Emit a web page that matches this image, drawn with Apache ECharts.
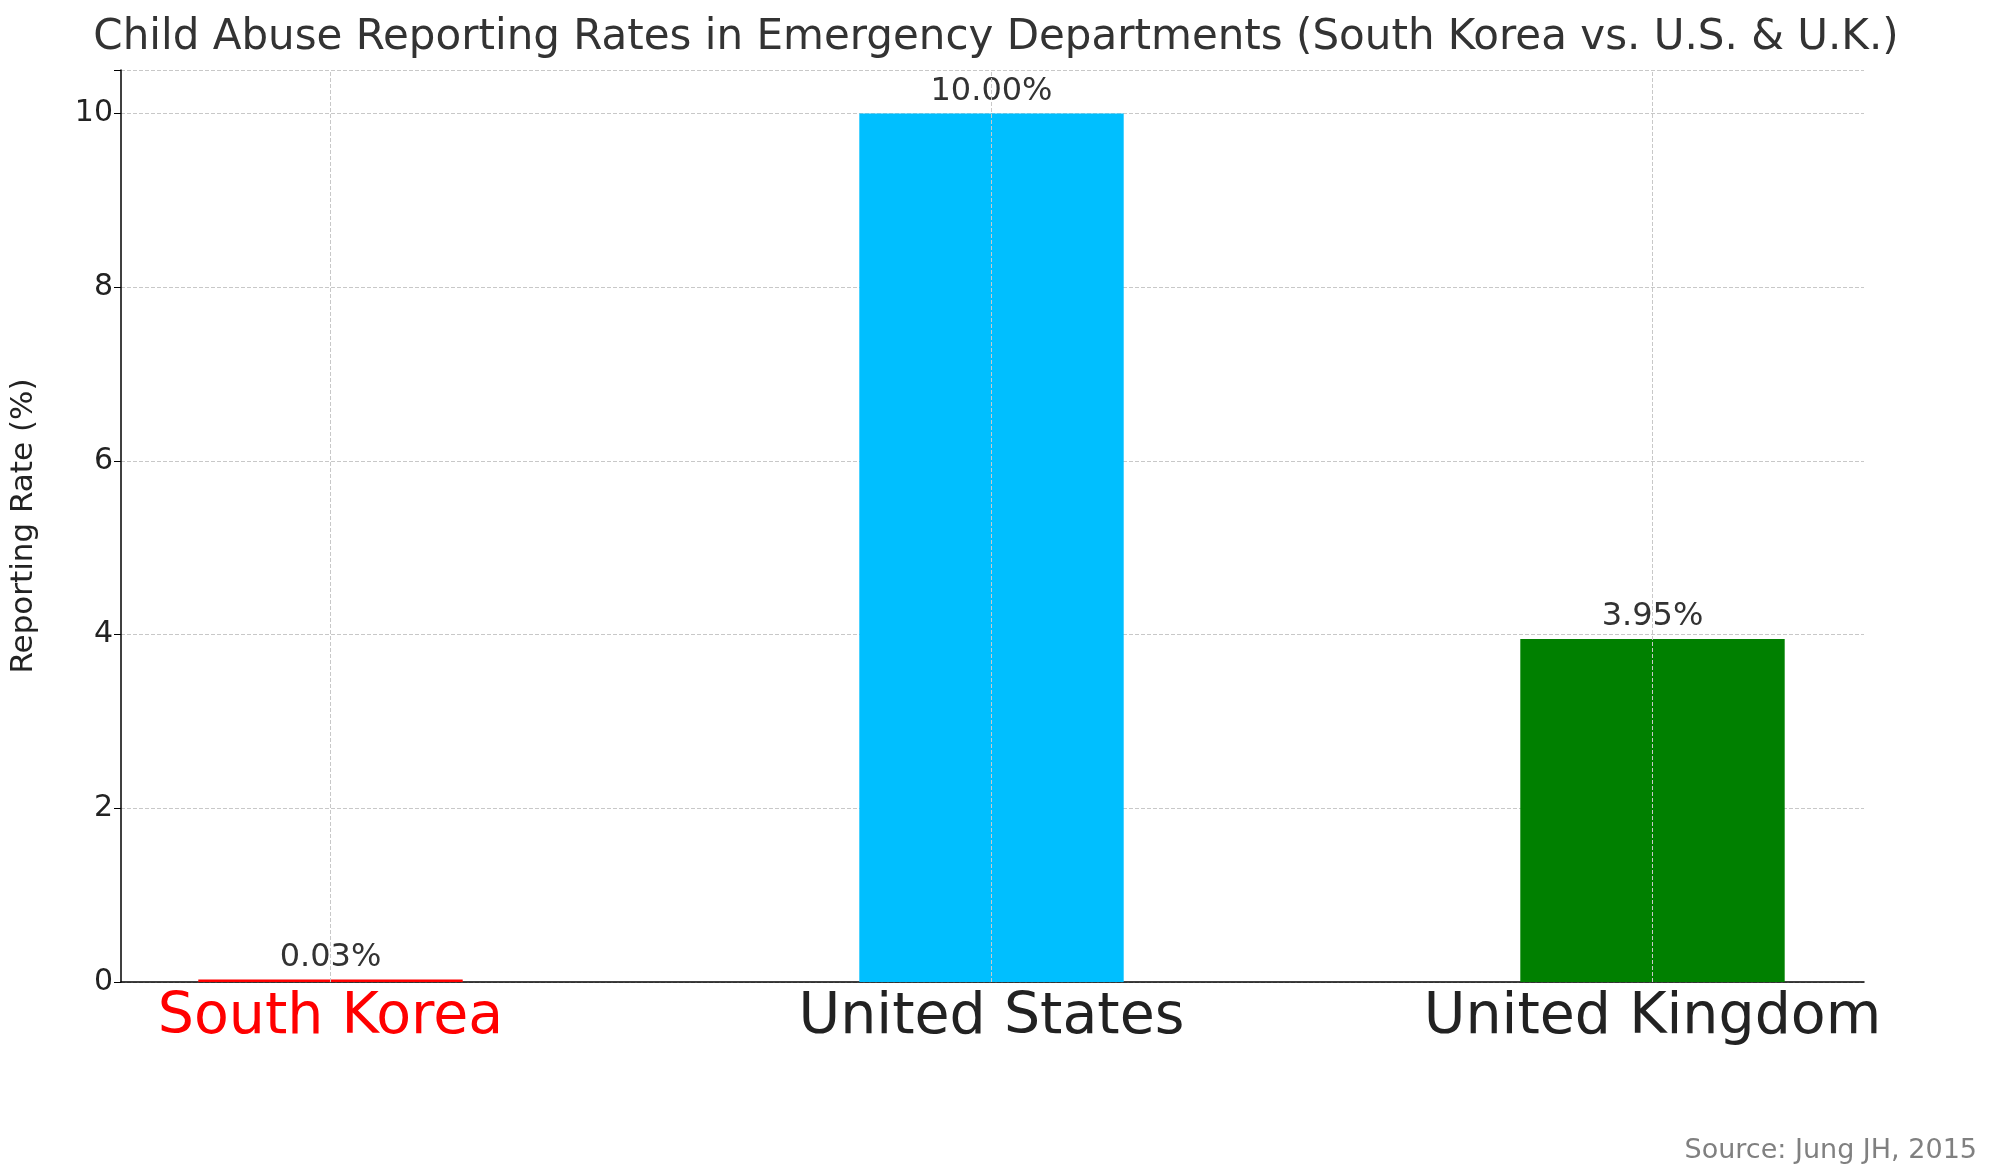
<!DOCTYPE html>
<html><head><meta charset="utf-8">
<script src="https://cdn.jsdelivr.net/npm/echarts@6/dist/echarts.min.js"></script>
<style>html,body{margin:0;padding:0;background:#fff}#c{width:1992px;height:1176px}</style>
</head><body><div id="c"></div>
<script>
const categories = ['South Korea', 'United States', 'United Kingdom'];
const values = [0.03, 10.0, 3.95];
const colors = ['#ff0000', '#00bfff', '#008000'];
const labelColors = ['#ff0000', '#222222', '#222222'];
const yTicks = [0, 2, 4, 6, 8, 10];
const F = 'DejaVu Sans';
const chart = echarts.init(document.getElementById('c'));
const grid = {top: 70, bottom: 194};
chart.setOption({
  animation: false,
  textStyle: {fontFamily: F},
  title: [{text: 'Child Abuse Reporting Rates in Emergency Departments (South Korea vs. U.S. & U.K.)', left: 'center', top: 12,
    textStyle: {fontFamily: F, fontSize: 42, fontWeight: 'normal', color: '#333'}},
    {text: 'Source: Jung JH, 2015', right: 10, top: 1132, textStyle: {fontFamily: F, fontSize: 27, fontWeight: 'normal', color: '#808080'}}],
  grid: [{left: 116, right: 128, top: grid.top, bottom: grid.bottom},
         {left: -3, right: 9, top: grid.top, bottom: grid.bottom}],
  xAxis: [
    {type: 'value', gridIndex: 0, min: 0, max: 1, show: true,
      axisLine: {onZero: false, lineStyle: {color: '#000', width: 1.5}},
      axisTick: {show: false}, axisLabel: {show: false}, splitLine: {show: false}},
    {type: 'category', gridIndex: 1, data: categories,
      axisLine: {show: false},
      axisTick: {alignWithLabel: true, length: 7, lineStyle: {color: '#000'}},
      splitLine: {show: false},
      axisLabel: {fontSize: 57, margin: 8, color: (v, i) => labelColors[i]}}],
  yAxis: [
    {type: 'value', gridIndex: 0, min: 0, max: 10.5, interval: 2,
      name: 'Reporting Rate (%)', nameLocation: 'middle', nameGap: 82,
      nameTextStyle: {fontSize: 31, color: '#222'},
      axisLine: {show: true, lineStyle: {color: '#000', width: 1.5}},
      axisTick: {show: true, length: 7, lineStyle: {color: '#000'}},
      axisLabel: {fontSize: 30, color: '#222', formatter: v => yTicks.includes(v) ? String(v) : ''},
      splitLine: {show: true, lineStyle: {type: 'dashed', color: '#c8c8c8'}}},
    {type: 'value', gridIndex: 1, min: 0, max: 10.5, show: false}],
  series: [{type: 'bar', xAxisIndex: 1, yAxisIndex: 1, barWidth: '40%',
    data: values.map((v, i) => ({value: v, itemStyle: {color: colors[i]}})),
    label: {show: true, position: 'top', fontSize: 32, color: '#333', distance: 6,
      formatter: p => p.value.toFixed(2) + '%'},
    markLine: {silent: true, symbol: 'none', label: {show: false},
      lineStyle: {type: 'dashed', color: '#c8c8c8', width: 1},
      data: categories.map(c => ({xAxis: c}))}}]
});
</script></body></html>
